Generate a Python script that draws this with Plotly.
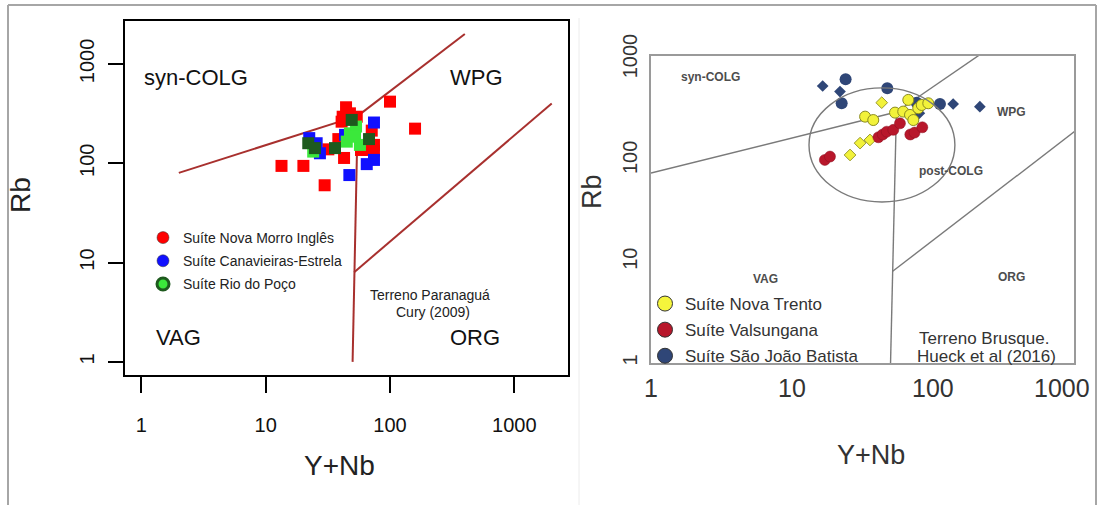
import math
import plotly.graph_objects as go

# ---------------- data: left panel (Terreno Paranaguá) ----------------
nmi_x = [13.4, 20.1, 29.8, 100, 159, 44.3, 41.6, 47.6, 42.7, 71.3, 74.3, 74.3, 58.4, 31.9, 40.8, 54, 38.4, 65]
nmi_y = [94, 94, 60, 417, 223, 366, 294, 318, 113, 213, 153, 134, 136, 138, 262, 294, 175, 136]
can_x = [74.3, 74.3, 65, 47.1, 22.4, 27.3, 25.7, 43.5]
can_y = [257, 108, 98, 76, 179, 126, 159, 193]
rp_light_x = [47.6, 53.3, 57.3, 24.1, 44.9, 52.3]
rp_light_y = [200, 234, 153, 131, 165, 185]
rp_dark_x = [49.2, 67.8, 36.1, 22.0, 24.9]
rp_dark_y = [273, 175, 142, 159, 142]

# ---------------- data: right panel (Terreno Brusque) ----------------
nt_x = [33, 37.7, 53.8, 61.5, 66.8, 68.7, 78.6, 83.2, 92.6, 72.5]
nt_y = [270, 250, 296, 303, 395, 281, 327, 352, 366, 250]
nt_small_x = [25.8, 30.4, 35.7, 43.3]
nt_small_y = [113, 148, 159, 371]
val_x = [17.1, 18.6, 41, 44, 47, 52.3, 58.3, 69, 74, 84]
val_y = [101, 109, 169, 180, 192, 200, 232, 180, 188, 212]
sjb_x = [22.5, 47.4, 24, 112, 76.6]
sjb_y = [366, 515, 632, 360, 371]
sjb_small_x = [16.5, 21.9, 139, 215, 80]
sjb_small_y = [542, 477, 360, 339, 292]

# ---------------- Pearce et al. (1984) field boundaries ----------------
syn_vag_x = [2, 55]
syn_vag_y = [80, 300]
syn_vag_ext_x = [1, 55]
syn_vag_ext_y = [75, 300]
syn_wpg_x = [55, 400]
syn_wpg_y = [300, 2000]
vag_org_x = [55, 51.5, 50]
vag_org_y = [300, 8, 1]
wpg_org_x = [51.5, 2000]
wpg_org_y = [8, 400]
# post-COLG field (ellipse bounding box, data units)
post_colg_x = [13.2, 143]
post_colg_y = [38.8, 519]

tick_vals = [1, 10, 100, 1000]
tick_text = ["1", "10", "100", "1000"]

W, H = 1098, 505
FONT = "Liberation Sans, Arial, sans-serif"


def px(x):
    return x / W


def py(y):
    return 1 - y / H


fig = go.Figure()

# ----- left panel boundaries -----
LEFT_LINE = dict(color="#a8302e", width=2)
for lx, ly in [(syn_vag_x, syn_vag_y), (syn_wpg_x, syn_wpg_y), (vag_org_x, vag_org_y), (wpg_org_x, wpg_org_y)]:
    fig.add_trace(go.Scatter(x=lx, y=ly, mode="lines", line=LEFT_LINE, xaxis="x", yaxis="y",
                             showlegend=False, hoverinfo="skip"))

# ----- left panel data -----
SQ = 12
fig.add_trace(go.Scatter(x=nmi_x, y=nmi_y, mode="markers", xaxis="x", yaxis="y", showlegend=False,
                         marker=dict(symbol="square", size=SQ, color="#ff0000")))
fig.add_trace(go.Scatter(x=can_x, y=can_y, mode="markers", xaxis="x", yaxis="y", showlegend=False,
                         marker=dict(symbol="square", size=SQ, color="#1010ff")))
fig.add_trace(go.Scatter(x=rp_light_x, y=rp_light_y, mode="markers", xaxis="x", yaxis="y", showlegend=False,
                         marker=dict(symbol="square", size=SQ, color="#3be83b")))
fig.add_trace(go.Scatter(x=rp_dark_x, y=rp_dark_y, mode="markers", xaxis="x", yaxis="y", showlegend=False,
                         marker=dict(symbol="square", size=SQ, color="#1e5a1e")))

# legend entries (left)
fig.add_trace(go.Scatter(x=[None], y=[None], mode="markers", xaxis="x", yaxis="y", name="Suíte Nova Morro Inglês",
                         legend="legend", legendgroup="a",
                         marker=dict(symbol="circle", size=12, color="#ff0000", line=dict(color="#333", width=0.5))))
fig.add_trace(go.Scatter(x=[None], y=[None], mode="markers", xaxis="x", yaxis="y", name="Suíte Canavieiras-Estrela",
                         legend="legend", legendgroup="b",
                         marker=dict(symbol="circle", size=12, color="#1010ff", line=dict(color="#333", width=0.5))))
fig.add_trace(go.Scatter(x=[None], y=[None], mode="markers", xaxis="x", yaxis="y", name="Suíte Rio do Poço",
                         legend="legend", legendgroup="c",
                         marker=dict(symbol="circle", size=12, color="#3be83b", line=dict(color="#1e5a1e", width=3))))

# ----- right panel boundaries -----
RIGHT_LINE = dict(color="#7a7a7a", width=1.4)
for lx, ly in [(syn_vag_ext_x, syn_vag_ext_y), (syn_wpg_x, syn_wpg_y), (vag_org_x, vag_org_y), (wpg_org_x, wpg_org_y)]:
    fig.add_trace(go.Scatter(x=lx, y=ly, mode="lines", line=RIGHT_LINE, xaxis="x2", yaxis="y2",
                             showlegend=False, hoverinfo="skip"))

# ----- right panel data -----
YEL = "#f2f23a"
RED = "#b8172b"
NAVY = "#2f4677"
fig.add_trace(go.Scatter(x=sjb_small_x, y=sjb_small_y, mode="markers", xaxis="x2", yaxis="y2", showlegend=False,
                         marker=dict(symbol="diamond", size=9, color=NAVY)))
fig.add_trace(go.Scatter(x=sjb_x, y=sjb_y, mode="markers", xaxis="x2", yaxis="y2", showlegend=False,
                         marker=dict(symbol="circle", size=12, color=NAVY)))
fig.add_trace(go.Scatter(x=nt_small_x, y=nt_small_y, mode="markers", xaxis="x2", yaxis="y2", showlegend=False,
                         marker=dict(symbol="diamond", size=9, color=YEL, line=dict(color="#9a9a30", width=1))))
fig.add_trace(go.Scatter(x=nt_x, y=nt_y, mode="markers", xaxis="x2", yaxis="y2", showlegend=False,
                         marker=dict(symbol="circle", size=11, color=YEL, line=dict(color="#8c8c20", width=1))))
fig.add_trace(go.Scatter(x=val_x, y=val_y, mode="markers", xaxis="x2", yaxis="y2", showlegend=False,
                         marker=dict(symbol="circle", size=11, color=RED, line=dict(color="#8a1020", width=0.5))))

# legend entries (right)
fig.add_trace(go.Scatter(x=[None], y=[None], mode="markers", xaxis="x2", yaxis="y2", name="Suíte Nova Trento",
                         legend="legend2", legendgroup="d",
                         marker=dict(symbol="circle", size=15, color="#f5f53c", line=dict(color="#333", width=1))))
fig.add_trace(go.Scatter(x=[None], y=[None], mode="markers", xaxis="x2", yaxis="y2", name="Suíte Valsungana",
                         legend="legend2", legendgroup="e",
                         marker=dict(symbol="circle", size=15, color=RED, line=dict(color="#333", width=1))))
fig.add_trace(go.Scatter(x=[None], y=[None], mode="markers", xaxis="x2", yaxis="y2", name="Suíte São João Batista",
                         legend="legend2", legendgroup="f",
                         marker=dict(symbol="circle", size=15, color=NAVY, line=dict(color="#333", width=1))))

# ---------------- annotations ----------------
ann = []


def text(x, y, t, size, color="#111", bold=False, angle=0):
    ann.append(dict(x=px(x), y=py(y), xref="paper", yref="paper", text=("<b>%s</b>" % t) if bold else t,
                    showarrow=False, font=dict(family=FONT, size=size, color=color), textangle=angle,
                    xanchor="center", yanchor="middle"))


# left panel
text(196, 77, "syn-COLG", 22)
text(476, 77, "WPG", 22)
text(178, 337, "VAG", 22)
text(475, 337, "ORG", 22)
text(430, 295, "Terreno Paranaguá", 14, "#222")
text(433, 312, "Cury (2009)", 14, "#222")
text(20, 195, "Rb", 28, "#222", angle=-90)
text(339, 465, "Y+Nb", 28, "#222")

# right panel
text(710, 77, "syn-COLG", 12, "#4d4d4d", bold=True)
text(1011, 112, "WPG", 12, "#4d4d4d", bold=True)
text(951, 171, "post-COLG", 12, "#4d4d4d", bold=True)
text(765, 279, "VAG", 12, "#4d4d4d", bold=True)
text(1011, 277, "ORG", 12, "#4d4d4d", bold=True)
text(984, 338, "Terreno Brusque.", 17, "#333")
text(986, 356, "Hueck et al (2016)", 17, "#333")
text(592, 192, "Rb", 27, "#333", angle=-90)
text(871, 455, "Y+Nb", 27, "#333")
# right panel x tick labels
for v, t in zip(tick_vals, tick_text):
    shift = -12 if v == 1000 else 0
    ann.append(dict(x=math.log10(v), y=py(388), xref="x2", yref="paper", text=t, showarrow=False,
                    font=dict(family=FONT, size=25, color="#333"), xanchor="center", yanchor="middle",
                    xshift=shift))

# ---------------- shapes ----------------
shapes = [
    dict(type="line", xref="paper", yref="paper", x0=px(8), x1=px(1096), y0=py(5), y1=py(5),
         line=dict(color="#a6a6a6", width=2)),
    dict(type="line", xref="paper", yref="paper", x0=px(8), x1=px(8), y0=py(5), y1=0,
         line=dict(color="#a6a6a6", width=2)),
    dict(type="line", xref="paper", yref="paper", x0=px(1096), x1=px(1096), y0=py(5), y1=0,
         line=dict(color="#a6a6a6", width=2)),
    dict(type="line", xref="paper", yref="paper", x0=px(579), x1=px(579), y0=py(18), y1=0,
         line=dict(color="#ececec", width=1)),
    dict(type="circle", xref="x2", yref="y2",
         x0=post_colg_x[0], x1=post_colg_x[1], y0=post_colg_y[0], y1=post_colg_y[1],
         line=dict(color="#7a7a7a", width=1.4)),
]

common_axis = dict(type="log", showgrid=False, zeroline=False, showline=True, mirror=True, automargin=False)

fig.update_layout(
    width=W, height=H, autosize=False,
    margin=dict(l=0, r=0, t=0, b=0, pad=0, autoexpand=False),
    paper_bgcolor="white", plot_bgcolor="white",
    font=dict(family=FONT),
    hovermode=False,
    xaxis=dict(**common_axis, domain=[px(125), px(568)], range=[-0.132, 3.432], anchor="y",
               linecolor="#000", linewidth=2, ticks="outside", ticklen=16, tickwidth=2, tickcolor="#000",
               tickvals=tick_vals, ticktext=tick_text, tickfont=dict(size=20, color="#111"),
               ticklabelstandoff=15),
    yaxis=dict(**common_axis, domain=[py(375), py(21)], range=[-0.132, 3.432], anchor="x",
               linecolor="#000", linewidth=2, ticks="outside", ticklen=15, tickwidth=2, tickcolor="#000",
               tickvals=tick_vals, ticktext=tick_text, tickfont=dict(size=20, color="#111"),
               tickangle=-90, ticklabelstandoff=6),
    xaxis2=dict(**common_axis, domain=[px(651), px(1074)], range=[0, 3], anchor="y2",
                linecolor="#9a9a9a", linewidth=2, ticks="", showticklabels=False),
    yaxis2=dict(**common_axis, domain=[py(363), py(56)], range=[0, 3.03], anchor="x2",
                linecolor="#9a9a9a", linewidth=2, ticks="",
                tickvals=tick_vals, ticktext=tick_text, tickfont=dict(size=20, color="#333"),
                tickangle=-90, ticklabelstandoff=4),
    legend=dict(x=px(143), y=py(222), xanchor="left", yanchor="top", bgcolor="rgba(0,0,0,0)",
                font=dict(family=FONT, size=14, color="#222"), tracegroupgap=2, borderwidth=0),
    legend2=dict(x=px(645), y=py(286), xanchor="left", yanchor="top", bgcolor="rgba(0,0,0,0)",
                 font=dict(family=FONT, size=17, color="#333"), tracegroupgap=1, borderwidth=0),
    annotations=ann,
    shapes=shapes,
)

fig.write_html("out.html", config={"displayModeBar": False},
               post_script="document.body.style.margin='0';")
